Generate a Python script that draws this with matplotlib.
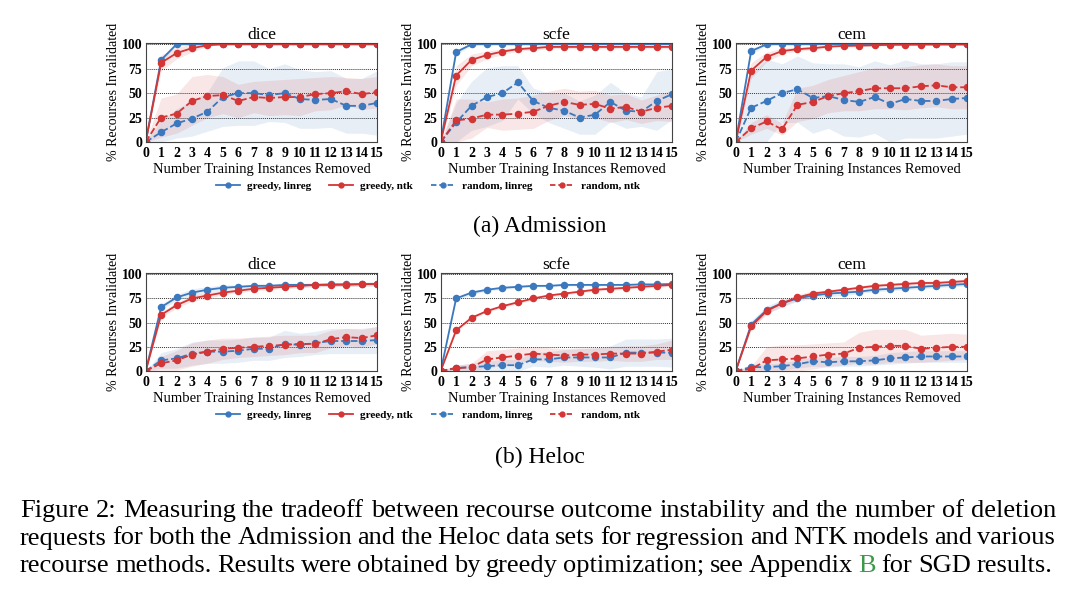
import numpy as np
import matplotlib
matplotlib.use("Agg")
import matplotlib.pyplot as plt
from matplotlib.lines import Line2D

plt.rcParams['font.family'] = ['Liberation Serif', 'DejaVu Serif']

steps = list(range(16))
methods = ["dice", "scfe", "cem"]
series_labels = ["greedy, linreg", "greedy, ntk", "random, linreg", "random, ntk"]

# ---------------- Admission ----------------
adm_dice_gl = [0, 84, 100, 100, 100, 100, 100, 100, 100, 100, 100, 100, 100, 100, 100, 100]
adm_dice_gl_sd = [0, 3, 1, 0, 0, 0, 0, 0, 0, 0, 0, 0, 0, 0, 0, 0]
adm_dice_gn = [0, 81, 91, 96, 99, 100, 100, 100, 100, 100, 100, 100, 100, 100, 100, 100]
adm_dice_gn_sd = [0, 8, 6, 4, 1, 0, 0, 0, 0, 0, 0, 0, 0, 0, 0, 0]
adm_dice_rl = [0, 10, 19, 24, 31, 46, 50, 50, 48, 50, 44, 43, 44, 37, 37, 40]
adm_dice_rl_sd = [0, 12, 15, 18, 20, 30, 33, 33, 27, 30, 30, 29, 29, 28, 28, 33]
adm_dice_rn = [0, 25, 29, 42, 47, 48, 42, 46, 45, 46, 46, 49, 50, 52, 49, 51]
adm_dice_rn_sd = [0, 20, 20, 25, 22, 19, 17, 16, 18, 18, 19, 17, 17, 14, 16, 16]

adm_scfe_gl = [0, 92, 100, 100, 100, 100, 100, 100, 100, 100, 100, 100, 100, 100, 100, 100]
adm_scfe_gl_sd = [0, 3, 1, 0, 0, 0, 0, 0, 0, 0, 0, 0, 0, 0, 0, 0]
adm_scfe_gn = [0, 68, 84, 89, 92.5, 95, 96, 97.3, 97.3, 97.3, 97.3, 97.3, 97.3, 97.3, 97.3, 97.3]
adm_scfe_gn_sd = [0, 10, 6, 4, 3, 2, 2, 2, 2, 2, 2, 2, 2, 2, 2, 2]
adm_scfe_rl = [0, 20, 37, 46, 50, 61, 42, 35, 32, 25, 28, 41, 32, 31, 42, 49]
adm_scfe_rl_sd = [0, 20, 25, 30, 28, 17, 13, 15, 18, 17, 20, 20, 18, 15, 30, 26]
adm_scfe_rn = [0, 22, 24, 28, 28, 29, 31, 37, 41, 38, 39, 34, 36, 31, 35, 37]
adm_scfe_rn_sd = [0, 22, 20, 13, 16, 16, 17, 15, 14, 14, 14, 14, 13, 12, 13, 16]

adm_cem_gl = [0, 93, 100, 100, 100, 100, 100, 100, 100, 100, 100, 100, 100, 100, 100, 100]
adm_cem_gl_sd = [0, 3, 1, 0, 0, 0, 0, 0, 0, 0, 0, 0, 0, 0, 0, 0]
adm_cem_gn = [0, 73, 87, 93, 95, 96, 97.6, 98.3, 98.6, 99, 99.5, 99.5, 99.7, 99.8, 99.8, 99.8]
adm_cem_gn_sd = [0, 8, 5, 3, 2, 2, 1, 1, 1, 1, 1, 1, 1, 1, 1, 1]
adm_cem_rl = [0, 35, 42, 50, 54, 45, 47, 43, 41, 46, 39, 44, 42, 42, 44, 45]
adm_cem_rl_sd = [0, 35, 43, 30, 34, 36, 33, 37, 36, 37, 40, 40, 38, 38, 38, 37]
adm_cem_rn = [0, 14, 21, 13, 38, 41, 47, 50, 52, 55, 55, 55, 57, 58, 56, 56]
adm_cem_rn_sd = [0, 6, 7, 6, 17, 17, 17, 18, 20, 21, 21, 22, 22, 22, 22, 22]

# ---------------- Heloc ----------------
hel_dice_gl = [0, 66, 76, 81, 84, 86, 87, 88, 88, 89, 89, 89, 89.5, 89.5, 89.7, 90]
hel_dice_gl_sd = [0, 3, 3, 4, 3, 3, 2, 2, 2, 2, 2, 2, 2, 2, 2, 2]
hel_dice_gn = [0, 58, 68, 75, 78, 81, 83, 85, 86, 87, 88, 89, 89, 89.3, 89.7, 90]
hel_dice_gn_sd = [0, 3, 3, 3, 3, 2, 2, 2, 2, 2, 2, 2, 2, 2, 2, 2]
hel_dice_rl = [0, 11, 13, 18, 20, 20, 21, 23, 23, 28, 27, 29, 31, 31, 31, 32]
hel_dice_rl_sd = [0, 8, 10, 12, 12, 12, 12, 12, 12, 14, 12, 12, 13, 13, 13, 14]
hel_dice_rn = [0, 8, 11, 17, 20, 23, 24, 25, 26, 27, 28, 28, 33, 35, 34, 37]
hel_dice_rn_sd = [0, 7, 10, 12, 12, 11, 10, 10, 10, 10, 9, 9, 9, 9, 9, 9]

hel_scfe_gl = [0, 75, 81, 84, 86, 87, 88, 88, 89, 89, 89, 89, 89, 89.5, 89.5, 90]
hel_scfe_gl_sd = [0, 2, 2, 1.5, 1.5, 1.5, 1, 1, 1, 1, 1, 1, 1, 1, 1, 1]
hel_scfe_gn = [0, 42, 55, 62, 67, 71, 75, 78, 80, 82, 84, 85, 86, 87, 88, 89]
hel_scfe_gn_sd = [0, 1.5, 1.5, 1.5, 1.5, 1.5, 1.5, 1.5, 1.5, 1.5, 1.5, 1.5, 1.5, 1.5, 1.5, 1.5]
hel_scfe_rl = [0, 3, 4, 5, 6, 6, 12, 12, 14, 14, 14, 14, 19, 19, 19, 19]
hel_scfe_rl_sd = [0, 3, 4, 5, 6, 6, 7, 8, 8, 9, 10, 12, 14, 14, 14, 15]
hel_scfe_rn = [0, 3, 4, 12, 14, 16, 18, 17, 16, 17, 17, 18, 18, 18, 20, 22]
hel_scfe_rn_sd = [0, 3, 4, 9, 8, 8, 7, 7, 7, 7, 7, 7, 8, 8, 8, 10]

hel_cem_gl = [0, 48, 63, 70, 75, 78, 80, 81, 82, 84, 85, 86, 87, 88, 89, 90]
hel_cem_gl_sd = [0, 4, 4, 4, 3, 3, 3, 3, 2, 2, 2, 2, 2, 2, 2, 2]
hel_cem_gn = [0, 46, 62, 70, 76, 80, 82, 84, 86, 88, 89, 90, 91, 91, 92, 93]
hel_cem_gn_sd = [0, 3, 3, 3, 3, 3, 2, 2, 2, 2, 2, 2, 2, 2, 2, 2]
hel_cem_rl = [0, 4, 4, 5, 7, 10, 9, 10, 10, 11, 13, 14, 15, 15, 15, 15]
hel_cem_rl_sd = [0, 3, 3, 4, 4, 5, 5, 5, 5, 5, 6, 6, 6, 6, 6, 6]
hel_cem_rn = [0, 2, 11, 12, 13, 15, 17, 18, 24, 25, 26, 26, 23, 24, 25, 25]
hel_cem_rn_sd = [0, 3, 14, 15, 14, 13, 12, 12, 16, 18, 17, 17, 14, 14, 14, 13]

yticks = [0, 25, 50, 75, 100]
caption_a = "(a) Admission"
caption_b = "(b) Heloc"
caption_lines = [
    "Figure 2: Measuring the tradeoff between recourse outcome instability and the number of deletion",
    "requests for both the Admission and the Heloc data sets for regression and NTK models and various",
    "recourse methods. Results were obtained by greedy optimization; see Appendix B for SGD results.",
]

BLUE = "#3b78bd"
RED = "#d43535"
GREEN = "#3a9a4a"

panels = {
    ("adm", "dice"): [(adm_dice_gl, adm_dice_gl_sd), (adm_dice_gn, adm_dice_gn_sd), (adm_dice_rl, adm_dice_rl_sd), (adm_dice_rn, adm_dice_rn_sd)],
    ("adm", "scfe"): [(adm_scfe_gl, adm_scfe_gl_sd), (adm_scfe_gn, adm_scfe_gn_sd), (adm_scfe_rl, adm_scfe_rl_sd), (adm_scfe_rn, adm_scfe_rn_sd)],
    ("adm", "cem"): [(adm_cem_gl, adm_cem_gl_sd), (adm_cem_gn, adm_cem_gn_sd), (adm_cem_rl, adm_cem_rl_sd), (adm_cem_rn, adm_cem_rn_sd)],
    ("hel", "dice"): [(hel_dice_gl, hel_dice_gl_sd), (hel_dice_gn, hel_dice_gn_sd), (hel_dice_rl, hel_dice_rl_sd), (hel_dice_rn, hel_dice_rn_sd)],
    ("hel", "scfe"): [(hel_scfe_gl, hel_scfe_gl_sd), (hel_scfe_gn, hel_scfe_gn_sd), (hel_scfe_rl, hel_scfe_rl_sd), (hel_scfe_rn, hel_scfe_rn_sd)],
    ("hel", "cem"): [(hel_cem_gl, hel_cem_gl_sd), (hel_cem_gn, hel_cem_gn_sd), (hel_cem_rl, hel_cem_rl_sd), (hel_cem_rn, hel_cem_rn_sd)],
}
styles = [(BLUE, "-"), (RED, "-"), (BLUE, "--"), (RED, "--")]

W, H = 1080, 597
fig = plt.figure(figsize=(W / 100, H / 100), dpi=100)
fig.patch.set_facecolor("white")

lefts = [145.7, 440.7, 735.7]
width_px = 231.5
rows = {"adm": (42.7, 142.0), "hel": (272.7, 371.0)}

for ds, (top, bot) in rows.items():
    for mi, m in enumerate(methods):
        ax = fig.add_axes([lefts[mi] / W, 1 - bot / H, width_px / W, (bot - top) / H])
        for (vals, sd), (c, ls) in zip(panels[(ds, m)], styles):
            v = np.array(vals, float)
            s = np.array(sd, float)
            ax.fill_between(steps, np.clip(v - s, 0, 100), np.clip(v + s, 0, 100),
                            color=c, alpha=0.12, lw=0)
            ax.plot(steps, v, color=c, ls=ls, lw=1.3, marker="o", ms=4.4)
        ax.set_xlim(0, 15)
        ax.set_ylim(0, 101.6)
        ax.set_xticks(steps)
        ax.set_yticks(yticks)
        for y in [25, 50, 75, 100]:
            ax.axhline(y, color="#333333", lw=0.7, ls=(0, (1, 1)), zorder=0.5)
        ax.tick_params(axis="x", length=0, pad=3.5, labelsize=10)
        ax.tick_params(axis="y", length=0, pad=2.5, labelsize=10)
        for lab in ax.get_xticklabels() + ax.get_yticklabels():
            lab.set_fontweight("bold")
        for sp in ax.spines.values():
            sp.set_linewidth(0.8)
            sp.set_color("#444444")
        ax.set_title(m, fontsize=12.5, pad=2)
        ax.set_xlabel("Number Training Instances Removed", fontsize=10.5, labelpad=2)
        ax.set_ylabel("% Recourses Invalidated", fontsize=10, labelpad=1)

    # legend
    handles = []
    for c, ls in styles:
        h = Line2D([], [], color=c, lw=1.3, marker="o", ms=3.5)
        if ls == "--":
            h.set_dashes((3.0, 1.6))
        handles.append(h)
    ly = 1 - (186 if ds == "adm" else 415) / H
    fig.legend(handles, series_labels, loc="center", bbox_to_anchor=(428 / W, ly), ncol=4,
               frameon=False, handlelength=2.2, columnspacing=1.6,
               handletextpad=0.6, prop={"weight": "bold", "size": 8})

fig.text(540 / W, 1 - 226 / H, caption_a, ha="center", va="center", fontsize=17)
fig.text(540 / W, 1 - 457 / H, caption_b, ha="center", va="center", fontsize=17)

# justified caption
fs_cap = 19
base_y = [517, 544.5, 572]
right_end = [1056, 1055, 1052]
x0 = 20
fig.canvas.draw()
r = fig.canvas.get_renderer()
for li, line in enumerate(caption_lines):
    words = line.split(" ")
    tmp = [fig.text(0, 0, w, fontsize=fs_cap) for w in words]
    widths = [t.get_window_extent(renderer=r).width for t in tmp]
    for t in tmp:
        t.remove()
    gap = (right_end[li] - x0 - sum(widths)) / (len(words) - 1)
    x = x0
    for w, wd in zip(words, widths):
        color = GREEN if (li == 2 and w == "B") else "black"
        fig.text(x / W, 1 - base_y[li] / H, w, ha="left", va="baseline", fontsize=fs_cap, color=color)
        x += wd + gap

fig.savefig("out.png", dpi=100, facecolor="white")
